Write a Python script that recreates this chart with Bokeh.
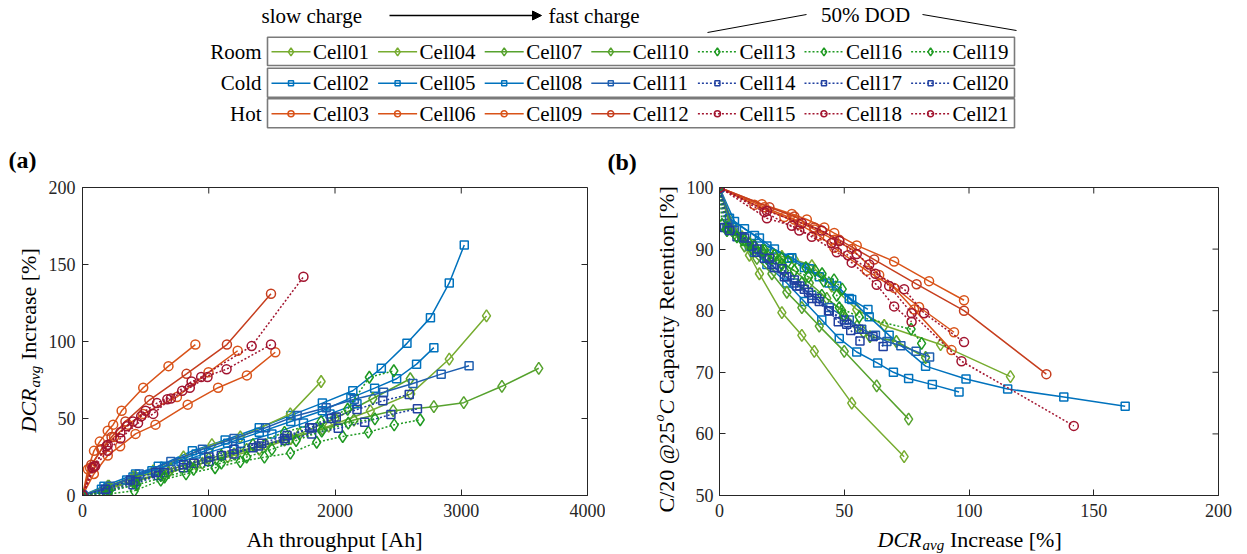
import math
from bokeh.plotting import figure
from bokeh.models import Range1d, FixedTicker, Arrow, NormalHead
from bokeh.layouts import column, row
from bokeh.embed import file_html
from bokeh.resources import INLINE
from bokeh.core.properties import value

FONT = "Liberation Serif"
AX = "#262626"

# ---------------- data (Ah throughput, DCR increase %, C/20 capacity retention %) ----------------
cell01_ah = [0, 200, 400, 650, 900, 1150, 1400, 1650, 1950, 2280, 2600, 2905, 3200]
cell01_dcr = [0, 4, 9, 14, 20, 25, 30, 37, 45, 55, 66, 88.6, 116.6]
cell01_cap = [100, 93.8, 92.0, 90.5, 89.5, 88.8, 88.3, 87.3, 84.0, 80.2, 77.6, 74.5, 69.3]

cell04_ah = [0, 200, 400, 560, 800, 1025, 1250, 1646, 1890]
cell04_dcr = [0, 6, 12, 16, 25, 33, 38, 53, 74]
cell04_cap = [100, 93.5, 89.0, 86.0, 79.7, 76.0, 73.4, 65.0, 56.3]

cell07_ah = [0, 200, 420, 680, 950, 1200, 1450, 1720, 2000, 2300, 2596]
cell07_dcr = [0, 5, 10, 15, 21, 27, 33, 40, 50, 63, 75.8]
cell07_cap = [100, 93.0, 90.5, 88.5, 86.0, 83.0, 80.5, 77.5, 73.4, 67.8, 62.4]

cell10_ah = [0, 210, 420, 700, 1000, 1300, 1600, 1900, 2150, 2461, 2783, 3020, 3322, 3614]
cell10_dcr = [0, 6, 12, 17, 24, 30, 36, 43, 49, 55.1, 57.7, 60.3, 70.9, 82.6]
cell10_cap = [100, 92.5, 91.0, 89.5, 88.0, 86.5, 84.5, 82.0, 80.0, 77.5, 76.5, 75.8, 75.0, 72.4]

cell13_ah = [0, 210, 420, 620, 850, 1100, 1350, 1600, 1890, 2100, 2272, 2466]
cell13_dcr = [0, 3, 9, 13, 19, 26, 33, 41, 48, 56, 76.8, 81]
cell13_cap = [100, 93.5, 91.5, 90.0, 88.5, 86.5, 84.5, 82.5, 80.5, 79.0, 77.0, 74.7]

cell16_ah = [0, 200, 410, 620, 820, 1050, 1250, 1441, 1647, 1855, 2061, 2264, 2469, 2675]
cell16_dcr = [0, 1, 3, 10, 14, 18, 22, 24.9, 27.5, 34.6, 38.3, 41.1, 45.9, 49.2]
cell16_cap = [100, 94.0, 93.2, 91.5, 90.5, 89.8, 89.0, 88.5, 88.0, 87.0, 86.5, 86.0, 85.0, 83.5]

cell19_ah = [0, 210, 430, 650, 880, 1100, 1300, 1500, 1692, 1895, 2105, 2316]
cell19_dcr = [0, 3, 7, 12, 17, 21, 25, 30, 35.7, 41.8, 47, 49.8]
cell19_cap = [100, 93.0, 92.0, 90.8, 89.8, 88.5, 87.5, 86.5, 85.5, 84.8, 82.5, 79.2]

cell02_ah = [0, 170, 420, 600, 870, 1130, 1400, 1650, 1900, 2141, 2367, 2570, 2756, 2905, 3024]
cell02_dcr = [0, 6, 14, 19, 29, 36, 44, 52, 60, 68, 82.6, 98.8, 115.5, 138, 162.6]
cell02_cap = [100, 94.5, 92.2, 90.5, 88.6, 86.8, 84.5, 82.0, 79.0, 76.0, 71.0, 68.9, 67.3, 66.0, 64.5]

cell05_ah = [0, 200, 400, 650, 900, 1150, 1400, 1650, 1900, 2126, 2314, 2488, 2646, 2783]
cell05_dcr = [0, 5, 12, 19, 27, 34, 41, 48, 55, 63.4, 69.7, 75.8, 85.3, 96]
cell05_cap = [100, 93.5, 90.5, 87.5, 84.5, 81.5, 78.5, 75.5, 73.3, 71.5, 70.0, 69.0, 68.0, 66.8]

cell08_ah = [0, 150, 350, 550, 780, 1000, 1250, 1500, 1750, 1960, 2174]
cell08_dcr = [0, 4, 10, 16, 22, 28, 34, 40, 47, 53, 59.5]
cell08_cap = [100, 95.0, 93.3, 91.8, 90.0, 88.5, 87.0, 85.5, 84.0, 81.8, 80.2]

cell11_ah = [0, 220, 450, 700, 950, 1200, 1450, 1700, 1930, 2153, 2385, 2617, 2841, 3062]
cell11_dcr = [0, 6, 14, 22, 30, 37, 44, 52, 57, 62.5, 67.1, 72.7, 78.8, 84.2]
cell11_cap = [100, 93.0, 89.5, 87.0, 84.5, 82.5, 80.5, 78.5, 77.0, 76.0, 75.0, 74.3, 73.4, 72.5]

cell14_ah = [0, 200, 420, 650, 880, 1100, 1350, 1600, 1800, 1970, 2174, 2379, 2588]
cell14_dcr = [0, 3, 9, 15, 21, 26, 31, 37, 44, 50, 55.8, 61.5, 65.6]
cell14_cap = [100, 93.5, 92.0, 89.5, 87.5, 85.5, 84.0, 82.0, 80.0, 78.5, 77.0, 75.8, 74.2]

cell17_ah = [0, 190, 400, 600, 800, 1000, 1200, 1394, 1605, 1815, 2026, 2235, 2443, 2653]
cell17_dcr = [0, 2, 7, 13, 18, 22, 27, 32.2, 35.7, 40, 43.7, 47.6, 52.6, 56.3]
cell17_cap = [100, 93.5, 92.0, 90.5, 88.5, 87.0, 85.5, 84.0, 83.0, 81.5, 80.0, 78.2, 76.8, 75.1]

cell20_ah = [0, 180, 380, 580, 800, 1000, 1200, 1420, 1620, 1820, 2010]
cell20_dcr = [0, 4, 10, 15, 20, 25, 30, 34, 39, 44, 51]
cell20_cap = [100, 93.0, 91.8, 90.0, 88.5, 86.8, 85.0, 83.5, 82.0, 80.0, 77.8]

cell03_ah = [0, 43, 91, 137, 200, 243, 310, 481, 681, 894]
cell03_dcr = [0, 17, 29, 35, 42, 46, 55, 70, 84, 98]
cell03_cap = [100, 97.3, 95.7, 94.8, 93.5, 92.6, 90.6, 88.0, 84.8, 81.7]

cell06_ah = [0, 90, 200, 298, 420, 578, 833, 1074, 1302, 1527]
cell06_dcr = [0, 14, 26, 32, 40, 46, 59, 70, 78, 93]
cell06_cap = [100, 97.2, 95.2, 94.0, 92.2, 90.2, 86.5, 83.7, 80.2, 73.6]

cell09_ah = [0, 60, 150, 250, 360, 480, 748, 998, 1229]
cell09_dcr = [0, 18, 30, 38, 46, 53, 64, 80, 94]
cell09_cap = [100, 96.8, 94.8, 93.2, 91.5, 90.0, 85.8, 80.6, 76.5]

cell12_ah = [0, 70, 150, 230, 340, 530, 824, 1144, 1493]
cell12_dcr = [0, 20, 30, 38, 48, 62, 79, 98, 131]
cell12_cap = [100, 96.8, 95.3, 93.5, 91.5, 88.3, 84.3, 80.0, 69.7]

cell15_ah = [0, 90, 200, 300, 400, 500, 590, 790, 940, 1340, 1750]
cell15_dcr = [0, 19, 33, 41, 48, 55, 60, 68, 77, 97, 142]
cell15_cap = [100, 96.2, 94.2, 93.0, 91.3, 89.2, 87.5, 84.0, 79.6, 71.8, 61.3]

cell18_ah = [0, 80, 190, 350, 465, 672, 864, 1141, 1493]
cell18_dcr = [0, 18, 32, 45, 51.5, 62.5, 74, 82, 98]
cell18_cap = [100, 96.0, 93.0, 91.0, 89.0, 86.0, 83.5, 79.6, 74.9]

cell21_ah = [0, 100, 200, 300, 440, 560, 700, 850, 990]
cell21_dcr = [0, 19, 29, 37, 47, 53, 63, 70, 77]
cell21_cap = [100, 95.0, 93.8, 92.0, 89.5, 87.8, 84.2, 80.7, 78.2]

CELLS = [
    ("Cell01", cell01_ah, cell01_dcr, cell01_cap),
    ("Cell02", cell02_ah, cell02_dcr, cell02_cap),
    ("Cell03", cell03_ah, cell03_dcr, cell03_cap),
    ("Cell04", cell04_ah, cell04_dcr, cell04_cap),
    ("Cell05", cell05_ah, cell05_dcr, cell05_cap),
    ("Cell06", cell06_ah, cell06_dcr, cell06_cap),
    ("Cell07", cell07_ah, cell07_dcr, cell07_cap),
    ("Cell08", cell08_ah, cell08_dcr, cell08_cap),
    ("Cell09", cell09_ah, cell09_dcr, cell09_cap),
    ("Cell10", cell10_ah, cell10_dcr, cell10_cap),
    ("Cell11", cell11_ah, cell11_dcr, cell11_cap),
    ("Cell12", cell12_ah, cell12_dcr, cell12_cap),
    ("Cell13", cell13_ah, cell13_dcr, cell13_cap),
    ("Cell14", cell14_ah, cell14_dcr, cell14_cap),
    ("Cell15", cell15_ah, cell15_dcr, cell15_cap),
    ("Cell16", cell16_ah, cell16_dcr, cell16_cap),
    ("Cell17", cell17_ah, cell17_dcr, cell17_cap),
    ("Cell18", cell18_ah, cell18_dcr, cell18_cap),
    ("Cell19", cell19_ah, cell19_dcr, cell19_cap),
    ("Cell20", cell20_ah, cell20_dcr, cell20_cap),
    ("Cell21", cell21_ah, cell21_dcr, cell21_cap),
]

ROW_NAMES = ["Room", "Cold", "Hot"]
LEGEND_ROWS = [
    ["Cell01", "Cell04", "Cell07", "Cell10", "Cell13", "Cell16", "Cell19"],
    ["Cell02", "Cell05", "Cell08", "Cell11", "Cell14", "Cell17", "Cell20"],
    ["Cell03", "Cell06", "Cell09", "Cell12", "Cell15", "Cell18", "Cell21"],
]
HEADER_LEFT = "slow charge"
HEADER_RIGHT = "fast charge"
HEADER_DOD = "50% DOD"

A_XTICKS = [0, 1000, 2000, 3000, 4000]
A_YTICKS = [0, 50, 100, 150, 200]
B_XTICKS = [0, 50, 100, 150, 200]
B_YTICKS = [50, 60, 70, 80, 90, 100]

# ---------------- styles ----------------
LG, MG, DG = "#77AC30", "#56A22E", "#1F9A22"
LB, DB, NB = "#0072BD", "#1F5FB0", "#2140A0"
OR, RD, CR = "#D95319", "#C63E1E", "#A2142F"
STYLE = {
    "Cell01": (LG, "solid", "diamond"), "Cell04": (LG, "solid", "diamond"),
    "Cell07": (MG, "solid", "diamond"), "Cell10": (MG, "solid", "diamond"),
    "Cell13": (DG, "2 2", "diamond"), "Cell16": (DG, "2 2", "diamond"), "Cell19": (DG, "2 2", "diamond"),
    "Cell02": (LB, "solid", "square"), "Cell05": (LB, "solid", "square"),
    "Cell08": (LB, "solid", "square"), "Cell11": (DB, "solid", "square"),
    "Cell14": (NB, "2 2", "square"), "Cell17": (NB, "2 2", "square"), "Cell20": (NB, "2 2", "square"),
    "Cell03": (OR, "solid", "circle"), "Cell06": (OR, "solid", "circle"),
    "Cell09": (OR, "solid", "circle"), "Cell12": (RD, "solid", "circle"),
    "Cell15": (CR, "2 2", "circle"), "Cell18": (CR, "2 2", "circle"), "Cell21": (CR, "2 2", "circle"),
}
MSIZE = {"diamond": 12, "square": 8, "circle": 9}
LSIZE = {"diamond": 8, "square": 5, "circle": 6}

# ---------------- page geometry (pixels) ----------------
TOP_H = 145                 # header / legend strip
ROW_H = 380                 # plots strip (145..525)
XL_H = 554 - TOP_H - ROW_H  # x-label strip (525..554)
FT, FB = 187, 495           # frame top / bottom
YA_W = 45                   # (a) y-label strip 0..45
A_L, A_R, A_END = 81, 587, 605
YB_END = 682                # (b) y-label strip 605..682
B_L, B_R = 719, 1218
TICK = 6
SP = 5.5                    # width of a space at 22px


def frameless(x0, y0, w, h):
    f = figure(width=w, height=h, x_range=Range1d(x0, x0 + w), y_range=Range1d(y0 + h, y0),
               output_backend="svg", toolbar_location=None, min_border=0, title=None,
               x_axis_location=None, y_axis_location=None, frame_align=False)
    f.grid.visible = False
    f.outline_line_color = None
    f.background_fill_color = "white"
    f.border_fill_color = "white"
    return f


def txt(f, x, y, s, size="22px", style="normal", angle=0.0, align="left", baseline="middle"):
    f.text(x=[x], y=[y], text=[s], text_font=value(FONT), text_font_size=value(size),
           text_font_style=style, text_color="black", angle=angle, text_align=align,
           text_baseline=baseline)


def make_plot(x0, w, fl, fr, xr, yr, xt, yt, xstand, ystand):
    p = figure(width=w, height=ROW_H, x_range=Range1d(*xr), y_range=Range1d(*yr),
               output_backend="svg", toolbar_location=None, frame_align=False,
               min_border_left=fl - x0, min_border_right=x0 + w - fr,
               min_border_top=FT - TOP_H, min_border_bottom=TOP_H + ROW_H - FB)
    p.xaxis.ticker = FixedTicker(ticks=xt)
    p.yaxis.ticker = FixedTicker(ticks=yt)
    for ax in p.axis:
        ax.major_tick_in = TICK
        ax.major_tick_out = 0
        ax.minor_tick_line_color = None
        ax.axis_line_color = AX
        ax.major_tick_line_color = AX
        ax.major_label_text_font = FONT
        ax.major_label_text_font_size = "18px"
        ax.major_label_text_color = AX
    p.xaxis.major_label_standoff = xstand
    p.yaxis.major_label_standoff = ystand
    p.grid.visible = False
    p.outline_line_color = AX
    p.background_fill_color = "white"
    p.border_fill_color = "white"
    # mirrored inward ticks on the top and right edges of the box
    dy = TICK / (FB - FT) * (yr[1] - yr[0])
    dx = TICK / (fr - fl) * (xr[1] - xr[0])
    p.segment(x0=xt, y0=[yr[1]] * len(xt), x1=xt, y1=[yr[1] - dy] * len(xt), line_color=AX, line_width=1)
    p.segment(x0=[xr[1]] * len(yt), y0=yt, x1=[xr[1] - dx] * len(yt), y1=yt, line_color=AX, line_width=1)
    return p


def draw_cells(p, xkey, ykey):
    for name, ah, dcr, cap in CELLS:
        series = {"ah": ah, "dcr": dcr, "cap": cap}
        xs, ys = series[xkey], series[ykey]
        color, dash, marker = STYLE[name]
        p.line(xs, ys, line_color=color, line_width=1.5, line_dash=dash)
        p.scatter(xs, ys, marker=marker, size=MSIZE[marker], line_color=color,
                  fill_color=None, line_width=1.5)


pa = make_plot(YA_W, A_END - YA_W, A_L, A_R, (0, 4000), (0, 200), A_XTICKS, A_YTICKS, 8, 7)
draw_cells(pa, "ah", "dcr")
pb = make_plot(YB_END, 1247 - YB_END, B_L, B_R, (0, 200), (50, 100), B_XTICKS, B_YTICKS, 8, 6)
draw_cells(pb, "dcr", "cap")

# ---------------- label strips ----------------
UP = math.pi / 2
ya = frameless(0, TOP_H, YA_W, ROW_H)
txt(ya, 8, 159, "(a)", size="24px", style="bold")
ya0, yac = 432, 28
txt(ya, yac, ya0, "DCR", style="italic", angle=UP)
txt(ya, yac + 6, ya0 - 45, "avg", size="15px", style="italic", angle=UP)
txt(ya, yac, ya0 - 67 - SP, "Increase [%]", angle=UP)

yb = frameless(A_END, TOP_H, YB_END - A_END, ROW_H)
txt(yb, 607, 161, "(b)", size="24px", style="bold")
yb0, ybc = 512, 666
txt(yb, ybc, yb0, "C/20 @25", angle=UP)
txt(yb, ybc - 7, yb0 - 91, "o", size="14px", style="italic", angle=UP)
txt(yb, ybc, yb0 - 98, "C", style="italic", angle=UP)
txt(yb, ybc, yb0 - 113 - SP, "Capacity Retention [%]", angle=UP)

xl = frameless(0, TOP_H + ROW_H, 1247, XL_H)
txt(xl, 334, 539, "Ah throughput [Ah]", align="center")
xb0 = 877
txt(xl, xb0, 539, "DCR", style="italic")
txt(xl, xb0 + 45, 544, "avg", size="15px", style="italic")
txt(xl, xb0 + 67 + SP, 539, "Increase [%]")

# ---------------- legend / header ----------------
top = frameless(0, 0, 1247, TOP_H)
TXT = dict(text_font=value(FONT), text_font_size=value("21px"), text_color="black")
top.text(x=[261, 548], y=[15, 15], text=[HEADER_LEFT, HEADER_RIGHT], text_baseline="middle",
         text_align="left", **TXT)
top.text(x=[865], y=[14], text=[HEADER_DOD], text_baseline="middle", text_align="center", **TXT)
top.add_layout(Arrow(end=NormalHead(size=9, fill_color="black", line_color="black"),
                     x_start=389, y_start=15, x_end=541, y_end=15, line_width=1.3,
                     line_color="black"))
top.segment(x0=[707, 922], y0=[32, 14], x1=[806, 1016], y1=[14, 30], line_color="black",
            line_width=1)

box_tops = [36.7, 67.7, 98.3]
box_bots = [65.0, 96.7, 127.3]
for r, names in enumerate(LEGEND_ROWS):
    yc = (box_tops[r] + box_bots[r]) / 2 + 0.5
    top.quad(left=[267], right=[1014], top=[box_tops[r]], bottom=[box_bots[r]],
             fill_color="white", line_color="#7a7a7a", line_width=1.6)
    top.text(x=[261], y=[yc], text=[ROW_NAMES[r]], text_baseline="middle", text_align="right", **TXT)
    for i, name in enumerate(names):
        color, dash, marker = STYLE[name]
        x0 = 271 + 106.6 * i
        top.line([x0, x0 + 39], [yc, yc], line_color=color, line_width=1.5, line_dash=dash)
        top.scatter([x0 + 19.5], [yc], marker=marker, size=LSIZE[marker], line_color=color,
                    fill_color=None, line_width=1.5)
        top.text(x=[x0 + 41.5], y=[yc], text=[name], text_baseline="middle", text_align="left", **TXT)

layout = column(top, row(ya, pa, yb, pb), xl)
open("out.html", "w").write(file_html(layout, INLINE))
